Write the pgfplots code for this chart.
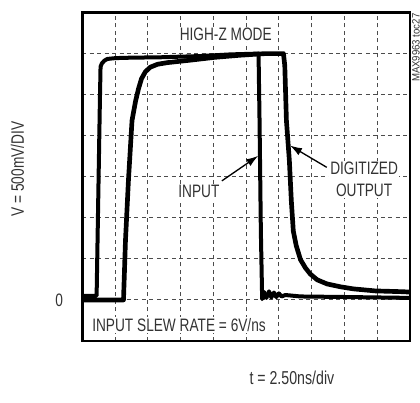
\documentclass[border=0pt]{standalone}
\usepackage{fontspec}
\setmainfont{Liberation Sans}[FakeStretch=0.76]
\newfontfamily\smallfont{Liberation Sans}[FakeStretch=0.9]
\usepackage{pgfplots}
\pgfplotsset{compat=1.18}
\usetikzlibrary{arrows.meta}
\begin{document}
\begin{tikzpicture}
\begin{axis}[name=ax, scale only axis, width=245.9pt, height=246.4pt,
  xmin=0, xmax=10, ymin=-1, ymax=7,
  xtick={1,...,9}, ytick={0,...,6}, xticklabels={}, yticklabels={},
  major tick length=0pt,
  grid=major,
  major grid style={black!70, line width=0.7pt, dash pattern=on 3pt off 2.6pt},
  axis line style={line width=2.2pt},
  clip=true]
% INPUT trace
\addplot[black, line width=3.0pt, line join=round] coordinates {
(0,0.10) (0.42,0.10) (0.44,0.10) (0.54,4.85) (0.56,5.68) (0.60,5.76) (0.68,5.83)
(0.77,5.87) (1.02,5.89) (1.47,5.90) (2.39,5.91) (3.61,5.94) (4.52,5.98) (5.38,6.0)
(5.41,4.37) (5.45,1.68) (5.49,0.02) (5.54,0.20) (5.62,0.05) (5.70,0.21) (5.77,0.06)
(5.85,0.18) (5.92,0.07) (6.00,0.16) (6.08,0.085) (6.20,0.12) (6.66,0.085)
(8.18,0.07) (10,0.05)};
% DIGITIZED OUTPUT trace
\addplot[black, line width=3.5pt, line join=round] coordinates {
(0,0) (1.26,0) (1.29,0.71) (1.32,1.44) (1.41,2.90) (1.52,4.37) (1.63,4.85)
(1.72,5.15) (1.81,5.39) (1.93,5.56) (2.08,5.67) (2.30,5.74) (2.60,5.78)
(3.30,5.84) (4.06,5.91) (4.82,5.96) (5.59,6.0) (6.14,6.0) (6.18,5.71)
(6.23,4.37) (6.32,3.39) (6.38,2.41) (6.44,1.68) (6.53,1.32) (6.66,0.98)
(6.81,0.78) (6.96,0.63) (7.17,0.49) (7.47,0.39) (7.88,0.32) (8.27,0.27)
(8.94,0.22) (9.80,0.20) (10,0.19)};
% labels
\node[fill=white, inner sep=1pt, text=black!80, font=\fontsize{13.5}{15}\selectfont]
  at (axis cs:4.38,6.46) {HIGH-Z MODE};
\node[fill=white, inner sep=1pt, anchor=base west, text=black!80, font=\fontsize{13.5}{15}\selectfont]
  at (axis cs:0.26,-0.76) {INPUT SLEW RATE = 6V/ns};
\node[fill=white, inner sep=1pt, text=black!80, font=\fontsize{13.5}{15}\selectfont]
  at (axis cs:3.56,2.64) {INPUT};
\node[fill=white, inner sep=1pt, align=center, text=black!80, font=\fontsize{13.5}{16.5}\selectfont]
  at (axis cs:8.60,2.93) {DIGITIZED\\OUTPUT};
\draw[line width=1pt, -{Latex[length=9pt,width=6pt]}] (axis cs:4.26,2.90) -- (axis cs:5.37,3.51);
\draw[line width=1pt, -{Latex[length=9pt,width=6pt]}] (axis cs:7.46,3.23) -- (axis cs:6.34,3.76);
\end{axis}
\node[anchor=east, inner sep=0pt, text=black!80, font=\fontsize{13.5}{15}\selectfont]
  at ([xshift=-14.2pt,yshift=30.8pt]ax.south west) {0};
\node[rotate=90, inner sep=0pt, text=black!80, font=\fontsize{13.5}{15}\selectfont]
  at ([xshift=-48.5pt,yshift=129pt]ax.south west) {V = 500mV/DIV};
\node[inner sep=0pt, text=black!80, font=\fontsize{14}{15}\selectfont]
  at ([xshift=157.3pt,yshift=-27.5pt]ax.south west) {t = 2.50ns/div};
\node[rotate=90, anchor=north east, inner sep=0pt, text=black!80, font=\smallfont\fontsize{8}{10}\selectfont]
  at ([xshift=1.4pt,yshift=-0.6pt]ax.north east) {MAX9963 toc27};
\pgfresetboundingbox
\path[use as bounding box] ([xshift=-61.65pt,yshift=-45.75pt]ax.south west) rectangle ([xshift=7.5pt,yshift=9.4pt]ax.north east);
\end{tikzpicture}
\end{document}
